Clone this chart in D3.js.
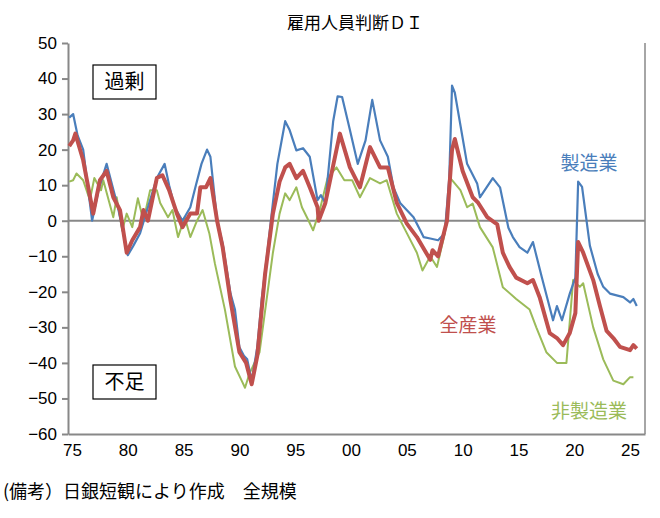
<!DOCTYPE html>
<html>
<head>
<meta charset="utf-8">
<script src="https://cdn.jsdelivr.net/npm/d3@7"></script>
<style>
body { margin: 0; background: #fff; font-family: "Noto Sans CJK JP", "Noto Sans", sans-serif; }
</style>
</head>
<body>
<svg id="chart" width="660" height="518"></svg>
<script>
// [year, DI]
const manufacturing = [[1974.75,29],[1975.1,30],[1975.5,24],[1976,20],[1976.8,0],[1977.4,9],[1978.1,16],[1978.6,10],[1979.1,4],[1980,-9.7],[1980.5,-7],[1981.1,-3.5],[1981.8,3.8],[1982.6,12],[1983.3,16],[1983.7,10],[1984.2,3.8],[1984.9,0],[1985.6,3.8],[1986.1,10],[1986.6,16],[1987.1,20],[1987.4,18],[1988,0],[1988.5,-6.5],[1989.2,-20.5],[1989.6,-25],[1990,-35.6],[1990.4,-38],[1990.7,-39],[1991.1,-45],[1991.6,-35.6],[1992,-22],[1992.5,-9],[1993,5],[1993.4,16],[1994.1,28],[1994.5,25.5],[1995.1,19.8],[1995.7,20.4],[1996.3,18],[1997,5.8],[1997.3,7.2],[1997.7,5],[1998.4,28],[1998.8,35],[1999.2,34.8],[1999.9,25.5],[2000.6,16],[2001.3,22.6],[2001.9,34],[2002.6,22.6],[2003.3,18],[2003.8,9.4],[2004.4,5],[2005.6,1],[2006.2,-2.7],[2006.5,-4.6],[2007.1,-5],[2007.8,-5.5],[2008.4,-3.5],[2008.8,12],[2009.05,38],[2009.3,36],[2010.4,16],[2011.3,10.5],[2011.55,6.6],[2012.7,12],[2013.35,9.4],[2014.1,-2],[2014.5,-4.6],[2015.1,-7.4],[2015.8,-9],[2016.3,-6],[2017.1,-16],[2018.1,-28],[2018.45,-24],[2018.9,-28],[2019.6,-20.5],[2020.1,-16],[2020.35,11],[2020.7,9.5],[2021.4,-7],[2022.1,-15],[2022.6,-18.6],[2023.2,-20.5],[2024.4,-21.5],[2025,-23],[2025.3,-22],[2025.6,-24]];
const allIndustries = [[1974.75,21],[1975.1,22.6],[1975.3,24.5],[1976,17],[1976.9,2],[1977.5,11.4],[1978.1,14],[1978.7,6.6],[1979.3,3],[1979.9,-9],[1980.4,-5.5],[1981.1,-1.8],[1981.4,3],[1981.8,0],[1982.6,12],[1983.1,12.8],[1983.7,8.6],[1984.4,2],[1984.9,-1.8],[1985.6,2],[1986.2,2],[1986.5,9.4],[1987,9.4],[1987.4,12],[1988,0],[1988.5,-7.5],[1989.2,-22.4],[1990,-37],[1990.6,-40],[1991.1,-46],[1991.6,-38],[1992.3,-15],[1993,2],[1993.6,11],[1994.1,15],[1994.5,16],[1995.1,12],[1995.7,14],[1996.3,9.4],[1997,3.8],[1997.1,0],[1997.7,5],[1998.3,14],[1999,24.5],[1999.9,15],[2000.8,9.4],[2001.7,20.7],[2002.6,15],[2003.3,15],[2004.1,5],[2005,-0.8],[2005.9,-4.6],[2007.1,-11],[2007.3,-8.3],[2007.8,-10],[2008.6,0],[2009.05,20],[2009.3,23],[2010,14],[2010.9,6.6],[2011.4,5],[2012.2,1],[2013.1,-1],[2013.6,-9],[2014.2,-13],[2014.8,-16],[2015.8,-17.6],[2016.3,-16.7],[2016.9,-21.5],[2017.8,-31.6],[2018.45,-33],[2019,-35],[2019.6,-31.6],[2020.1,-26],[2020.35,-6],[2020.8,-9],[2021.7,-16.7],[2022.3,-24],[2022.9,-31],[2023.5,-33],[2024.1,-35.5],[2025,-36.4],[2025.3,-35],[2025.6,-36]];
const nonManufacturing = [[1974.75,11],[1975.1,11.4],[1975.4,13.3],[1976,11.4],[1976.6,5.8],[1977,12],[1977.6,8.6],[1977.8,11.4],[1978.7,1],[1979,6.6],[1979.5,-2.7],[1979.9,2],[1980.4,-1.8],[1980.9,6.3],[1981.4,0],[1982,8.6],[1982.6,8.6],[1982.9,5],[1983.6,1],[1984,3],[1984.5,-4.6],[1985.1,1],[1985.6,-4.6],[1986.2,0],[1986.7,3],[1987.3,-3.5],[1987.8,-12],[1988.7,-25],[1989.6,-41],[1990.2,-45],[1990.5,-47],[1990.9,-43],[1991.8,-37],[1993,-9],[1993.6,2],[1994.1,7.7],[1994.5,5.8],[1995.1,9.4],[1995.6,3.8],[1996.2,0],[1996.6,-2.7],[1997.2,3],[1997.9,12],[1998.7,15],[1999.4,11.4],[2000.1,11.4],[2000.8,6.6],[2001.7,12],[2002.6,10.5],[2003.2,11.4],[2004.1,2],[2005,-3.5],[2005.9,-9],[2006.4,-14],[2007.1,-10],[2007.7,-13],[2008.4,-3.5],[2008.9,12],[2009.8,8.6],[2010.4,3.8],[2010.9,4.8],[2011.55,-1.8],[2012.7,-7.5],[2013.6,-18.7],[2014.8,-22],[2016,-25],[2016.6,-30],[2017.5,-37],[2018.45,-40],[2019.3,-40],[2019.9,-16.7],[2020.5,-18.6],[2020.8,-17.6],[2021.7,-30],[2022.6,-39],[2023.5,-45],[2024.4,-46],[2025,-44],[2025.3,-44]];
const xTicks = [1975,1980,1985,1990,1995,2000,2005,2010,2015,2020,2025];
const yTicks = [50,40,30,20,10,0,-10,-20,-30,-40,-50,-60];

const svg = d3.select('#chart');
const plotLeft = 68, plotRight = 645, plotTop = 43, plotBottom = 434;
const x = d3.scaleLinear().domain([1974.64, 2026.34]).range([plotLeft, plotRight]);
const y = d3.scaleLinear().domain([-60, 50]).range([plotBottom, plotTop]);

svg.append('text').attr('x', 355).attr('y', 29).attr('text-anchor', 'middle')
    .attr('font-size', 17).text('雇用人員判断ＤＩ');

// axes
const yAxis = svg.append('g').attr('transform', `translate(${plotLeft},0)`)
    .call(d3.axisLeft(y).tickValues(yTicks).tickSize(6).tickSizeOuter(0));
const xAxis = svg.append('g').attr('transform', `translate(0,${plotBottom})`)
    .call(d3.axisBottom(x).tickValues(xTicks).tickSize(0).tickSizeOuter(0)
        .tickFormat(d => String(d % 100).padStart(2, '0')));
[yAxis, xAxis].forEach(a => {
    a.selectAll('path, line').attr('stroke', '#888').attr('stroke-width', 2);
    a.selectAll('text').attr('font-size', 17).attr('font-family', 'Liberation Sans, Arial, sans-serif').attr('fill', '#000');
});
xAxis.selectAll('text').attr('dy', '1.1em');
yAxis.selectAll('text').attr('dx', '-2');
svg.append('line').attr('x1', plotRight).attr('x2', plotRight).attr('y1', plotTop).attr('y2', plotBottom)
    .attr('stroke', '#888').attr('stroke-width', 1.5);
svg.append('line').attr('x1', plotLeft).attr('x2', plotRight).attr('y1', y(0)).attr('y2', y(0))
    .attr('stroke', '#888').attr('stroke-width', 2);

const line = d3.line().x(d => x(d[0])).y(d => y(d[1])).curve(d3.curveLinear);
const series = [
    { data: nonManufacturing, color: '#9bbb59', w: 2 },
    { data: manufacturing, color: '#4a7ebb', w: 2.2 },
    { data: allIndustries, color: '#c0504d', w: 4 }
];
series.forEach(s => {
    svg.append('path').datum(s.data).attr('fill', 'none').attr('stroke', s.color)
        .attr('stroke-width', s.w).attr('stroke-linejoin', 'round').attr('d', line);
});

// labels
const labels = [
    { t: '製造業', x: 589, y: 170, c: '#4a7ebb' },
    { t: '全産業', x: 468, y: 332, c: '#c0504d' },
    { t: '非製造業', x: 589, y: 418, c: '#9bbb59' }
];
labels.forEach(l => svg.append('text').attr('x', l.x).attr('y', l.y).attr('text-anchor', 'middle')
    .attr('font-size', 19).attr('fill', l.c).text(l.t));

[{ t: '過剰', y: 65 }, { t: '不足', y: 365 }].forEach(b => {
    svg.append('rect').attr('x', 93).attr('y', b.y).attr('width', 63).attr('height', 34)
        .attr('fill', '#fff').attr('stroke', '#000').attr('stroke-width', 1.2);
    svg.append('text').attr('x', 124.5).attr('y', b.y + 24).attr('text-anchor', 'middle')
        .attr('font-size', 20).text(b.t);
});

svg.append('text').attr('x', 3).attr('y', 498).attr('font-size', 18)
    .text('(備考）日銀短観により作成　全規模');
</script>
</body>
</html>
